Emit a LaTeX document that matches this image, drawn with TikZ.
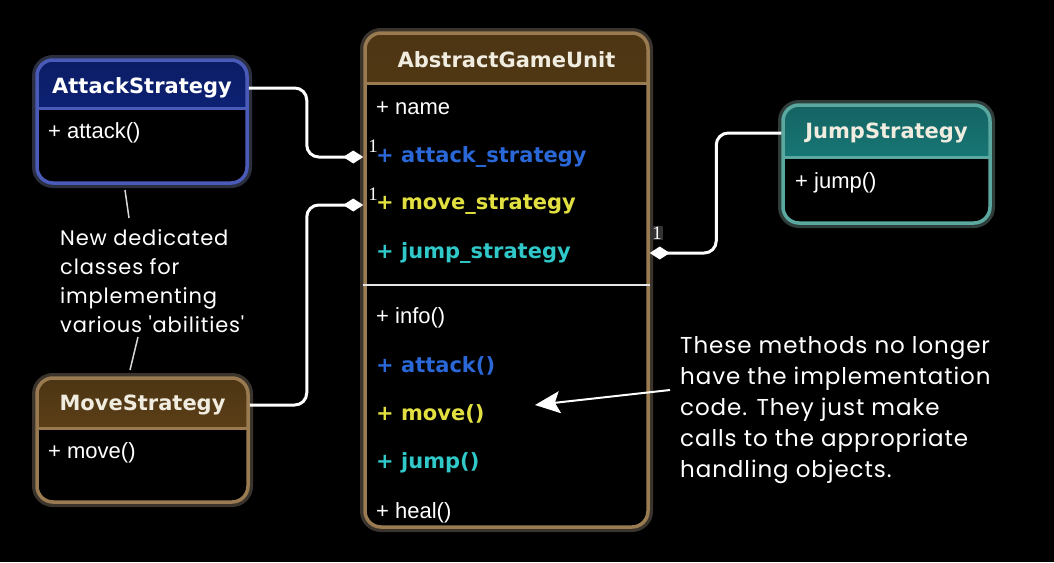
\documentclass[tikz,border=0pt]{standalone}
\usepackage{fontspec}
\usepackage{color}
\usetikzlibrary{calc,positioning,arrows.meta}

\newfontfamily\umlfont{DejaVu Sans}
\newfontfamily\plainfont{Liberation Sans}
\newfontfamily\digitfont{Liberation Serif}
\newfontfamily\handfont{Poppins}[LetterSpace=4]

\definecolor{blueedge}{HTML}{4A5AB8}
\definecolor{bluehead}{HTML}{10298E}
\definecolor{brownedge}{HTML}{9A7A50}
\definecolor{brownhead}{HTML}{6E4C1C}
\definecolor{tealedge}{HTML}{5AA8A0}
\definecolor{tealhead}{HTML}{1C8E8C}
\definecolor{attackcol}{HTML}{2A68D8}
\definecolor{movecol}{HTML}{E2E040}
\definecolor{jumpcol}{HTML}{30C8C8}
\definecolor{titlecol}{HTML}{F0ECE0}

\begin{document}
\begin{tikzpicture}[
    x=1pt, y=-1pt,
    classbox/.style n args={3}{draw=#1, line width=3.5pt, fill=black,
      rounded corners=16pt, inner sep=0pt,
      preaction={draw=#1!60!white, line width=10pt, opacity=0.3},
      path picture={
        \shade[sharp corners, top color=#2!70!black, bottom color=#2]
          (path picture bounding box.north west) rectangle
          ([yshift=-#3]path picture bounding box.north east);
        \draw[sharp corners, #1, line width=3pt]
          ([yshift=-#3]path picture bounding box.north west) --
          ([yshift=-#3]path picture bounding box.north east);}},
    title/.style={inner sep=0pt, text=titlecol,
      font=\umlfont\bfseries\fontsize{21}{25}\selectfont},
    item/.style={anchor=west, inner sep=0pt, text=white,
      font=\plainfont\fontsize{22}{26}\selectfont},
    field/.style={anchor=west, inner sep=0pt, text=#1,
      font=\umlfont\bfseries\fontsize{21}{25}\selectfont},
    mult/.style={inner sep=1pt, text=white,
      font=\digitfont\fontsize{19}{22}\selectfont},
    link/.style={draw=white, line width=3pt, rounded corners=12pt,
      -{Diamond[length=20pt, width=13pt]}},
    note/.style 2 args={align=left, anchor=west, inner sep=0pt, text=white,
      font=\handfont\fontsize{#1}{#2}\selectfont},
    noteline/.style={draw=white!85!black, line width=1.5pt},
    pointer/.style={draw=white, line width=2pt,
      -{Stealth[length=25pt, width=22pt, inset=5pt]}}]

    \path[use as bounding box, fill=black] (0,0) rectangle (1054,562);

    % classes

    \node[classbox={brownedge}{brownhead}{50pt}, minimum width=283pt,
      minimum height=494pt] (unit) at (506.5,280) {};
    \node[title] (unittitle) at (506.5,60) {AbstractGameUnit};
    \node[item] (name) at (376,108) {+ name};
    \node[field=attackcol] (astrat) at (376,157) {+ attack\_strategy};
    \node[field=movecol] (mstrat) at (376,205) {+ move\_strategy};
    \node[field=jumpcol] (jstrat) at (376,253) {+ jump\_strategy};
    \coordinate (opsline) at (0,285);
    \node[item] (info) at (376,318) {+ info()};
    \node[field=attackcol] (attackop) at (376,366) {+ attack()};
    \node[field=movecol] (moveop) at (376,414) {+ move()};
    \node[field=jumpcol] (jumpop) at (376,463) {+ jump()};
    \node[item] (heal) at (376,513) {+ heal()};

    \node[classbox={blueedge}{bluehead}{48pt}, minimum width=210pt,
      minimum height=123pt] (attackbox) at (142,121.5) {};
    \node[title, text=white] (attacktitle) at (142,88) {AttackStrategy};
    \node[item] (attack) at (48,133) {+ attack()};

    \node[classbox={tealedge}{tealhead}{52pt}, minimum width=207pt,
      minimum height=118pt] (jumpbox) at (886.5,164) {};
    \node[title] (jumptitle) at (886.5,133) {JumpStrategy};
    \node[item] (jump) at (795,183) {+ jump()};

    \node[classbox={brownedge}{brownhead}{50pt}, minimum width=211pt,
      minimum height=124pt] (movebox) at (142.5,440) {};
    \node[title] (movetitle) at (142.5,405) {MoveStrategy};
    \node[item] (move) at (48,453) {+ move()};

    \draw[white!90!black, line width=2pt]
      (unit.west |- opsline) -- (unit.east |- opsline);

    % notes

    \node[note={21}{29pt}] (abil) at (60,281) {New dedicated\\classes for\\%
      implementing\\various 'abilities'};
    \node[note={23}{31pt}] (hnote) at (680,410) {These methods no longer\\%
      have the implementation\\code. They just make\\%
      calls to the appropriate\\handling objects.};

    \coordinate (a1) at (125,190);
    \coordinate (a2) at (129,218);
    \coordinate (m1) at (138,337);
    \coordinate (m2) at (130,370);
    \coordinate (hint) at (670,390);
    \coordinate (hinttip) at (535,405);

    % edges

    \draw[link] (attackbox.east |- attacktitle) -- ++(58,0)
      |- (unit.west |- astrat);
    \draw[link] (movebox.east |- movetitle) -- ++(57,0)
      |- (unit.west |- mstrat);
    \draw[link] (jumpbox.west |- jumptitle) -- ++(-65,0)
      |- (unit.east |- jstrat);

    \node[mult] (m-attack) at (373,146) {1};
    \node[mult] (m-move) at (373,194) {1};
    \node[mult, fill=black!80] (m-jump) at (657,233) {1};

    \draw[noteline] (a1) -- (a2);
    \draw[noteline] (m1) -- (m2);
    \draw[pointer] (hint) -- (hinttip);
  \end{tikzpicture}
\end{document}
